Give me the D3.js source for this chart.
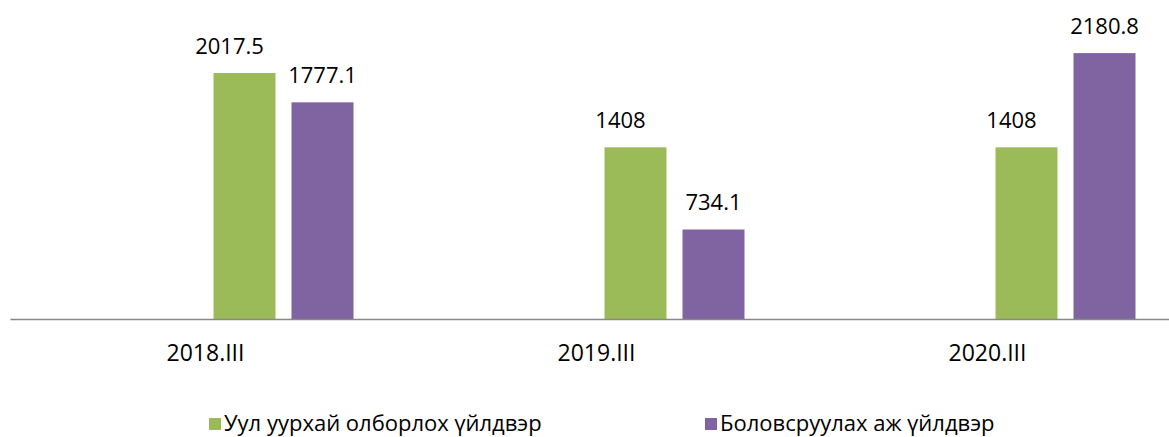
<!DOCTYPE html>
<html>
<head>
<meta charset="utf-8">
<script src="https://cdn.jsdelivr.net/npm/d3@7"></script>
<style>
  body { margin: 0; background: #fff; }
  svg { display: block; font-family: "Open Sans", sans-serif; }
</style>
</head>
<body>
<svg id="drawing_region"></svg>
<script>
const categories = ["2018.III", "2019.III", "2020.III"];
const seriesNames = ["Уул уурхай олборлох үйлдвэр", "Боловсруулах аж үйлдвэр"];
const mining = [2017.5, 1408, 1408];
const processing = [1777.1, 734.1, 2180.8];
const colors = ["#9bbb59", "#8064a2"];

const data = categories.map((c, i) => ({ label: c, values: [mining[i], processing[i]] }));

const width = 1169, height = 437;
const svg = d3.select("#drawing_region")
    .attr("width", width)
    .attr("height", height);

// category bands: 391px each starting at x=10
const x0 = d3.scaleBand()
    .domain(categories)
    .range([10, 10 + 3 * 391]);

// the two bars sit in the right half of each band
const bw = x0.bandwidth();
const x1 = d3.scaleBand()
    .domain(seriesNames)
    .range([bw / 2, bw / 2 + 156])
    .paddingInner(16 / 78)
    .paddingOuter(8 / 78);

const yscale = d3.scaleLinear()
    .domain([0, 2500])
    .range([319, 319 - 2500 * 0.12193]);

const groups = svg.selectAll("g.cat")
    .data(data)
    .enter()
    .append("g")
    .attr("class", "cat")
    .attr("transform", d => `translate(${x0(d.label)},0)`);

groups.selectAll("rect")
    .data(d => d.values.map((v, i) => ({ name: seriesNames[i], value: v, i: i })))
    .enter()
    .append("rect")
    .attr("x", d => x1(d.name))
    .attr("y", d => yscale(d.value))
    .attr("width", x1.bandwidth())
    .attr("height", d => yscale(0) - yscale(d.value))
    .style("fill", d => colors[d.i]);

// value labels (green ones were nudged left in the original)
groups.selectAll("text.val")
    .data(d => d.values.map((v, i) => ({ name: seriesNames[i], value: v, i: i })))
    .enter()
    .append("text")
    .attr("class", "val")
    .attr("x", d => x1(d.name) + x1.bandwidth() / 2 + (d.i === 0 ? -15 : 0))
    .attr("y", d => yscale(d.value) - 19)
    .attr("text-anchor", "middle")
    .attr("font-size", "22px")
    .attr("fill", "#000")
    .text(d => d.value);

// x axis
const xaxis = d3.axisBottom(x0)
    .tickSize(0)
    .tickPadding(26);

const xaxis_group = svg.append("g")
    .attr("transform", "translate(0,319)")
    .call(xaxis);

xaxis_group.select(".domain")
    .attr("stroke", "#888")
    .attr("stroke-width", 1.5);

xaxis_group.selectAll("text")
    .attr("font-family", "'Open Sans', sans-serif")
    .attr("font-size", "23px")
    .attr("fill", "#000");

// legend
const legendX = [209, 705];
const legend = svg.selectAll("g.legend")
    .data(seriesNames)
    .enter()
    .append("g")
    .attr("class", "legend")
    .attr("transform", (d, i) => `translate(${legendX[i]},417)`);

legend.append("rect")
    .attr("y", 1)
    .attr("width", 12)
    .attr("height", 12)
    .style("fill", (d, i) => colors[i]);

legend.append("text")
    .attr("x", 15)
    .attr("y", 13.5)
    .attr("font-size", "22px")
    .attr("fill", "#000")
    .text(d => d);
</script>
</body>
</html>
